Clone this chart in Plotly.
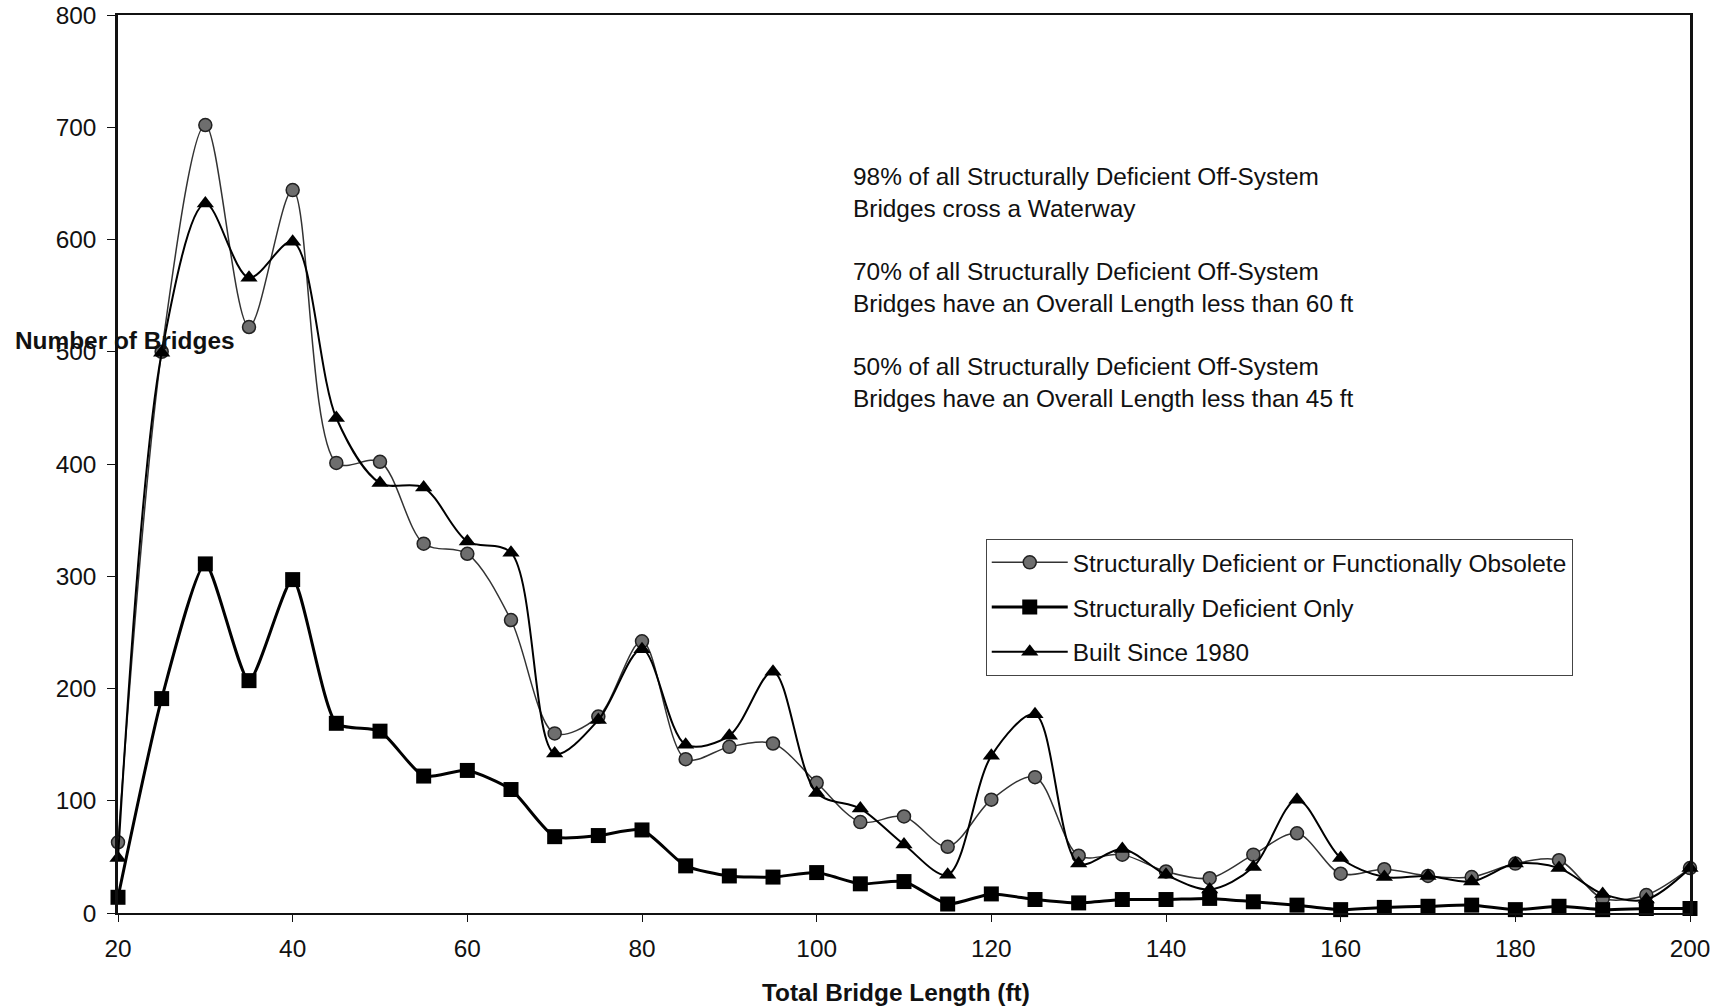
import plotly.graph_objects as go

lengths = [20, 25, 30, 35, 40, 45, 50, 55, 60, 65, 70, 75, 80, 85, 90, 95, 100,
           105, 110, 115, 120, 125, 130, 135, 140, 145, 150, 155, 160, 165, 170,
           175, 180, 185, 190, 195, 200]

sd_or_fo = [63, 500, 702, 522, 644, 401, 402, 329, 320, 261, 160, 175, 242, 137,
            148, 151, 116, 81, 86, 59, 101, 121, 51, 52, 37, 31, 52, 71, 35, 39,
            33, 32, 44, 47, 13, 16, 40]

sd_only = [14, 191, 311, 207, 297, 169, 162, 122, 127, 110, 68, 69, 74, 42, 33,
           32, 36, 26, 28, 8, 17, 12, 9, 12, 12, 13, 10, 7, 3, 5, 6, 7, 3, 6, 3,
           4, 4]

built_1980 = [49, 499, 632, 566, 598, 441, 383, 379, 331, 321, 142, 172, 235,
              150, 158, 215, 107, 93, 61, 34, 140, 177, 44, 57, 34, 21, 41, 101,
              49, 32, 33, 28, 44, 40, 17, 12, 40]

series_names = ["Structurally Deficient or Functionally Obsolete",
                "Structurally Deficient Only",
                "Built Since 1980"]

notes = ["98% of all Structurally Deficient Off-System",
         "Bridges cross a Waterway",
         "",
         "70% of all Structurally Deficient Off-System",
         "Bridges have an Overall Length less than 60 ft",
         "",
         "50% of all Structurally Deficient Off-System",
         "Bridges have an Overall Length less than 45 ft"]

x_ticks = [20, 40, 60, 80, 100, 120, 140, 160, 180, 200]
y_ticks = [0, 100, 200, 300, 400, 500, 600, 700, 800]

x_title = "Total Bridge Length (ft)"
y_title = "Number of Bridges"

FONT = "Liberation Sans, Arial, sans-serif"
FS = 24.4

fig = go.Figure()

fig.add_trace(go.Scatter(
    x=lengths, y=sd_or_fo, name=series_names[0], mode="lines+markers",
    line=dict(color="#333333", width=1.5, shape="spline", smoothing=0.9),
    marker=dict(symbol="circle", size=13, color="#6e6e6e",
                line=dict(color="#222222", width=1.5)),
    cliponaxis=False, legendgroup="a"))

fig.add_trace(go.Scatter(
    x=lengths, y=sd_only, name=series_names[1], mode="lines+markers",
    line=dict(color="#000000", width=3, shape="spline", smoothing=0.6),
    marker=dict(symbol="square", size=15, color="#000000"),
    cliponaxis=False, legendgroup="b"))

fig.add_trace(go.Scatter(
    x=lengths, y=built_1980, name=series_names[2], mode="lines+markers",
    line=dict(color="#000000", width=2, shape="spline", smoothing=0.9),
    marker=dict(symbol="triangle-up", size=15, color="#000000"),
    cliponaxis=False, legendgroup="c"))

fig.add_annotation(
    text="<br>".join(notes), xref="paper", yref="paper",
    x=0.4665, y=0.837, xanchor="left", yanchor="top", align="left",
    showarrow=False, font=dict(family=FONT, size=FS, color="#111111"))

fig.add_annotation(
    text="<b>" + y_title + "</b>", xref="paper", yref="y",
    x=-0.067, y=510, xanchor="left", yanchor="middle", showarrow=False,
    font=dict(family=FONT, size=FS, color="#111111"))

fig.add_annotation(
    text="<b>" + x_title + "</b>", xref="paper", yref="paper",
    x=0.495, y=-0.089, xanchor="center", yanchor="middle", showarrow=False,
    font=dict(family=FONT, size=FS, color="#111111"))

fig.update_layout(
    width=1721, height=1007,
    margin=dict(l=118, r=31, t=15, b=94, autoexpand=False),
    paper_bgcolor="white", plot_bgcolor="white",
    font=dict(family=FONT, size=FS, color="#111111"),
    showlegend=True,
    legend=dict(x=0.552, y=0.4165, xanchor="left", yanchor="top",
                bgcolor="white", bordercolor="#444444", borderwidth=1,
                font=dict(family=FONT, size=FS, color="#111111"),
                traceorder="grouped", tracegroupgap=10,
                itemwidth=76),
    xaxis=dict(range=[20, 200], tickvals=x_ticks, showgrid=False,
               zeroline=False, showline=True, linecolor="#111111",
               linewidth=1.5, mirror=True, ticks="outside", ticklen=7,
               tickcolor="#111111", ticklabelstandoff=6, automargin=False),
    yaxis=dict(range=[0, 800], tickvals=y_ticks, showgrid=False,
               zeroline=False, showline=True, linecolor="#111111",
               linewidth=2.5, mirror=True, ticks="outside", ticklen=8,
               tickcolor="#111111", ticklabelstandoff=6, automargin=False),
)

fig.write_html(
    "out.html",
    config={"displayModeBar": False},
    post_script="document.body.style.margin='0';"
                "document.body.style.overflow='hidden';")
